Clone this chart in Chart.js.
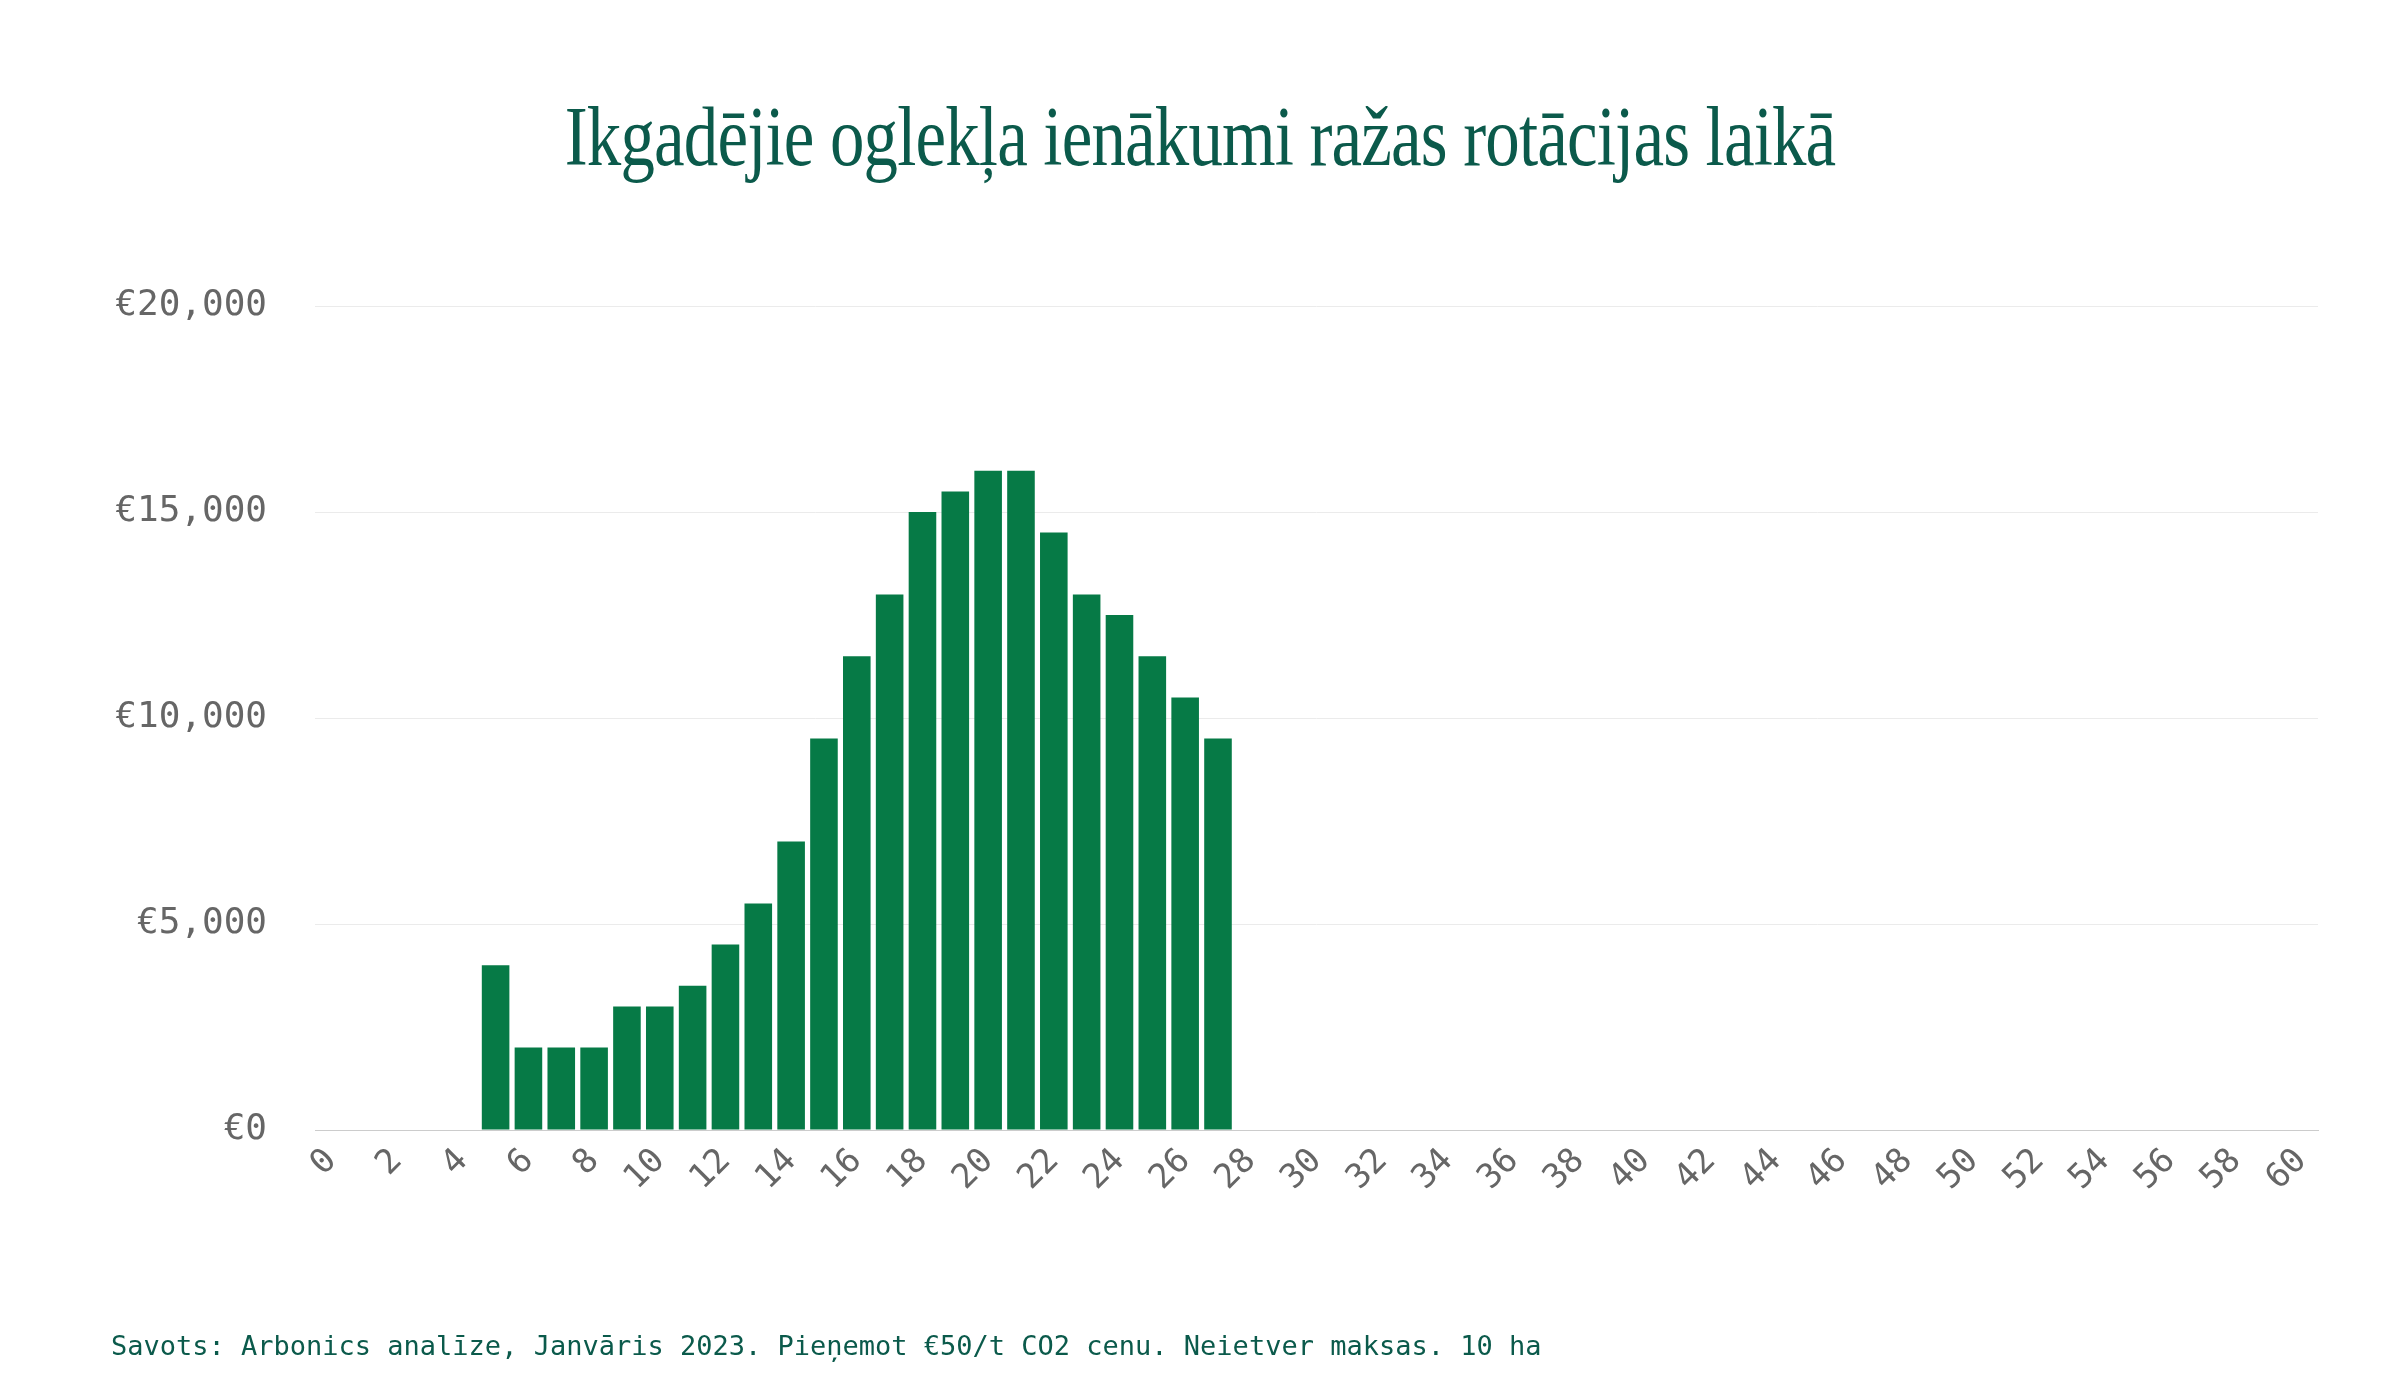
<!DOCTYPE html>
<html><head><meta charset="utf-8">
<script src="https://cdn.jsdelivr.net/npm/chart.js@4"></script>
<style>
html,body{margin:0;padding:0;background:#fff;width:2400px;height:1400px;overflow:hidden}
#t{position:absolute;top:88px;left:0;width:2400px;text-align:center;font-family:"Liberation Serif",serif;font-size:84px;color:#0b5a4b;transform:scaleX(0.82);letter-spacing:-1px}
#f{position:absolute;top:1330px;left:111px;font-family:"DejaVu Sans Mono",monospace;font-size:27px;color:#0b5a4b}
#c{position:absolute;left:0;top:0}
</style></head><body>
<div id="t">Ikgadējie oglekļa ienākumi ražas rotācijas laikā</div>
<canvas id="c" width="2400" height="1400"></canvas>
<div id="f">Savots: Arbonics analīze, Janvāris 2023. Pieņemot €50/t CO2 cenu. Neietver maksas. 10 ha</div>
<script>
const years = [];
for (let i = 0; i <= 60; i++) years.push(i);
const income = [0,0,0,0,0,4000,2000,2000,2000,3000,3000,3500,4500,5500,7000,9500,11500,13000,15000,15500,16000,16000,14500,13000,12500,11500,10500,9500];
const yTicks = [0,5000,10000,15000,20000];
while (income.length < years.length) income.push(0);
new Chart(document.getElementById('c'), {
  type: 'bar',
  data: { labels: years, datasets: [{ data: income, backgroundColor: '#067a46', barPercentage: 0.84, categoryPercentage: 1 }] },
  options: {
    responsive: false, animation: false, devicePixelRatio: 1,
    layout: { padding: { top: 306, right: 82, bottom: 120, left: 0 } },
    plugins: { legend: { display: false }, tooltip: { enabled: false } },
    scales: {
      x: {
        grid: { display: false }, border: { color: '#cccccc' },
        ticks: { autoSkip: false, minRotation: 45, maxRotation: 45, color: '#666', font: { family: 'DejaVu Sans Mono', size: 34 },
          callback: (v, i) => (i % 2 === 0 ? String(years[i]) : '') },
        afterFit: s => { s.height = 150; }
      },
      y: {
        min: 0, max: 20000,
        grid: { color: '#ebebeb', drawTicks: false }, border: { display: false },
        afterBuildTicks: s => { s.ticks = yTicks.map(v => ({ value: v })); },
        ticks: { padding: 48, color: '#666', font: { family: 'DejaVu Sans Mono', size: 36 },
          callback: v => '€' + v.toLocaleString('en-US') },
        afterFit: s => { s.width = 315; }
      }
    }
  }
});
</script></body></html>
